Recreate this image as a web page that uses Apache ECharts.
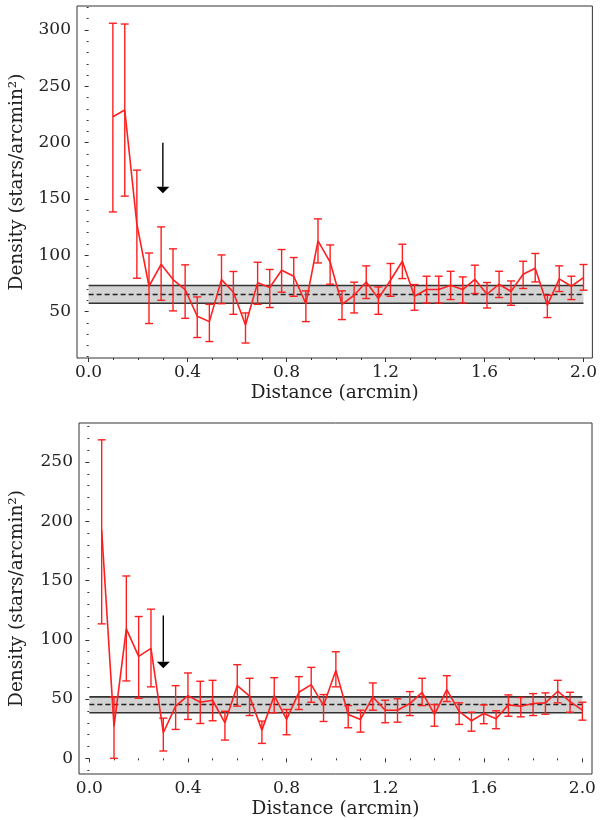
<!DOCTYPE html>
<html>
<head>
<meta charset="utf-8">
<script src="https://cdn.jsdelivr.net/npm/echarts@6/dist/echarts.min.js"></script>
<style>html,body{margin:0;padding:0;background:#fff}#c{width:600px;height:820px}</style>
</head>
<body>
<div id="c"></div>
<script>
// ---- Top panel data ----
var topX = [0.098,0.146,0.195,0.244,0.293,0.341,0.390,0.439,0.488,0.537,0.585,0.634,0.683,0.732,0.780,0.829,0.878,0.927,0.976,1.024,1.073,1.122,1.171,1.220,1.268,1.317,1.366,1.415,1.463,1.512,1.561,1.610,1.659,1.707,1.756,1.805,1.854,1.902,1.951,2.000];
var topY = [223,229,127.6,72.5,92,78.4,69.6,45.9,41.1,78.4,67.2,38.1,75.5,71.4,86.7,81.4,57.1,112.8,94,56.5,64.5,76.3,61.6,77.8,94.7,63.6,69.6,69.6,73.4,69.6,78.7,65.4,74.3,67.8,83.2,88.5,55.6,79,72.5,80.2];
var topLo = [138.5,152.5,79.6,39.4,60,50.6,44,27,23.4,57,47.6,22.1,56.5,53.6,67.2,63.6,41.1,93.2,74.3,42.9,48.8,61.6,47.6,63.6,79.3,51.2,57.7,57.7,60.7,57.7,66,53.2,62.5,55.6,70.5,76.3,44.7,67.8,60.7,69];
var topHi = [306,305.3,175.6,102,125.2,105.7,91.5,63,56.5,100.3,85.6,48.8,93.8,87.4,105.1,98,68.4,132.3,109.2,68.4,76.1,90.6,71.9,92.7,109.8,74,81.4,81.4,85.8,80.8,91.2,75.8,85.8,77.2,94.7,101.6,64.5,90.6,81.4,91.8];
var topBand = [57.4, 65.1, 73.1];   // lower, mean, upper
var topArrow = [0.3, 200, 155];     // x, start, tip
var topYTicks = [50,100,150,200,250,300];
var topYMinor = [10,20,30,40,60,70,80,90,110,120,130,140,160,170,180,190,210,220,230,240,260,270,280,290,310,320];

// ---- Bottom panel data ----
var botX = [0.05,0.10,0.15,0.20,0.25,0.30,0.35,0.40,0.45,0.50,0.55,0.60,0.65,0.70,0.75,0.80,0.85,0.90,0.95,1.00,1.05,1.10,1.15,1.20,1.25,1.30,1.35,1.40,1.45,1.50,1.55,1.60,1.65,1.70,1.75,1.80,1.85,1.90,1.95,2.00];
var botY = [192.4,27,109.2,86,92.7,21.6,44,52.9,47.3,49,30,61.3,52.4,23.8,52.9,32.8,55.7,62.2,44.5,74.2,37,32.8,51.8,40.6,40.6,46.2,55.7,37,58,39.7,31.7,37.8,33.4,45.1,44,46.2,46.8,56.6,47.9,40.6];
var botLo = [113.4,0,65.3,50.7,60.3,6.2,24.4,32.8,29.4,31.7,15.4,44,36.1,12.6,38.4,19.9,41.2,47.3,31.1,60.3,25.8,22.1,40.6,30,30.5,36.1,44.5,27.1,47.9,28.6,22.9,29.2,25,35.5,35,36.1,37.2,46.8,38.9,32.2];
var botHi = [268.6,51.8,153.8,119.6,125.8,33.9,61.3,72,65,65.8,39.7,79,67.5,31.4,68,41.2,68.9,76.7,53.8,89.9,44.5,40.6,63.6,49,50.2,56.3,67.5,45.4,69.7,46.8,38.9,45.1,40.1,53.5,51.3,54.6,55.2,65.8,55.7,47.3];
var botBand = [38.4, 45.4, 51.8];
var botArrow = [0.3, 120.5, 76];
var botYTicks = [0,50,100,150,200,250];
var botYMinor = [-10,10,20,30,40,60,70,80,90,110,120,130,140,160,170,180,190,210,220,230,240,260,270,280];

var xTicks = [0,0.4,0.8,1.2,1.6,2.0];
var xMinor = [0.1,0.2,0.3,0.5,0.6,0.7,0.9,1.0,1.1,1.3,1.4,1.5,1.7,1.8,1.9];
var bandX = [0, 2.0];

var FONT = 'DejaVu Serif';
var TXT = '#222';
var RED = '#ff1f1f';
var FRAME = '#333';

function zip2(a,b){ return a.map(function(v,i){ return [v,b[i]]; }); }
function zip3(a,b,c){ return a.map(function(v,i){ return [v,b[i],c[i]]; }); }

function errRender(params, api){
  var x = api.value(0), lo = api.value(1), hi = api.value(2);
  var p1 = api.coord([x, lo]), p2 = api.coord([x, hi]);
  var w = 4, st = {stroke: RED, lineWidth: 1.4};
  return {type:'group', children:[
    {type:'line', shape:{x1:p1[0],y1:p1[1],x2:p2[0],y2:p2[1]}, style:st},
    {type:'line', shape:{x1:p1[0]-w,y1:p1[1],x2:p1[0]+w,y2:p1[1]}, style:st},
    {type:'line', shape:{x1:p2[0]-w,y1:p2[1],x2:p2[0]+w,y2:p2[1]}, style:st}
  ]};
}
function bandRender(params, api){
  var x0 = api.value(0), x1 = api.value(1), lo = api.value(2), mid = api.value(3), hi = api.value(4);
  var a = api.coord([x0, hi]), b = api.coord([x1, lo]);
  var m0 = api.coord([x0, mid]), m1 = api.coord([x1, mid]);
  return {type:'group', children:[
    {type:'rect', shape:{x:a[0], y:a[1], width:b[0]-a[0], height:b[1]-a[1]}, style:{fill:'#d3d3d3'}},
    {type:'line', shape:{x1:a[0],y1:a[1],x2:b[0],y2:a[1]}, style:{stroke:'#333', lineWidth:1.6}},
    {type:'line', shape:{x1:a[0],y1:b[1],x2:b[0],y2:b[1]}, style:{stroke:'#333', lineWidth:1.6}},
    {type:'line', shape:{x1:m0[0],y1:m0[1],x2:m1[0],y2:m1[1]}, style:{stroke:'#222', lineWidth:1.5, lineDash:[5,3]}}
  ]};
}
function arrowRender(params, api){
  var x = api.value(0), y0 = api.value(1), y1 = api.value(2);
  var s = api.coord([x, y0]), t = api.coord([x, y1]);
  var hl = 6.5, hw = 6.5;
  return {type:'group', children:[
    {type:'line', shape:{x1:s[0],y1:s[1],x2:t[0],y2:t[1]-hl}, style:{stroke:'#000', lineWidth:1.4}},
    {type:'polygon', shape:{points:[[t[0],t[1]],[t[0]-hw,t[1]-hl],[t[0]+hw,t[1]-hl]]}, style:{fill:'#000'}}
  ]};
}

function xAxes(gi, min, max){
  return [
    {type:'value', gridIndex:gi, min:min, max:max, position:'bottom',
     name:'Distance (arcmin)', nameLocation:'middle', nameGap:26,
     nameTextStyle:{fontFamily:FONT, fontSize:18.5, color:TXT},
     axisLine:{show:false}, splitLine:{show:false},
     axisTick:{show:true, customValues:xTicks, length:4, lineStyle:{color:FRAME, width:1}},
     axisLabel:{customValues:xTicks, margin:6, fontFamily:FONT, fontSize:17, color:TXT,
       formatter:function(v){ return v.toFixed(1); }}},
    {type:'value', gridIndex:gi, min:min, max:max, position:'bottom',
     axisLine:{show:false}, splitLine:{show:false},
     axisTick:{show:true, customValues:xMinor, length:2, lineStyle:{color:FRAME, width:1}},
     axisLabel:{show:false, customValues:xMinor}}
  ];
}
function yAxes(gi, min, max, ticks, minor, gap){
  return [
    {type:'value', gridIndex:gi, min:min, max:max, position:'left',
     name:'Density (stars/arcmin\u00b2)', nameLocation:'middle', nameGap:gap, nameRotate:90,
     nameTextStyle:{fontFamily:FONT, fontSize:18.5, color:TXT},
     axisLine:{show:false}, splitLine:{show:false},
     axisTick:{show:true, customValues:ticks, length:4, lineStyle:{color:FRAME, width:1}},
     axisLabel:{customValues:ticks, margin:6, fontFamily:FONT, fontSize:17, color:TXT}},
    {type:'value', gridIndex:gi, min:min, max:max, position:'left',
     axisLine:{show:false}, splitLine:{show:false},
     axisTick:{show:true, customValues:minor, length:2, lineStyle:{color:FRAME, width:1}},
     axisLabel:{show:false, customValues:minor}}
  ];
}

var xa = xAxes(0, -0.047, 2.036).concat(xAxes(1, -0.042, 2.039));
var ya = yAxes(0, 8.8, 321.3, topYTicks, topYMinor, 50).concat(yAxes(1, -13.2, 282.8, botYTicks, botYMinor, 52));

function panelSeries(gi, X, Y, Lo, Hi, band, arrow){
  var xi = gi*2, yi = gi*2;
  return [
    {type:'custom', xAxisIndex:xi, yAxisIndex:yi, renderItem:bandRender, silent:true, z:1,
     data:[[bandX[0], bandX[1], band[0], band[1], band[2]]]},
    {type:'line', xAxisIndex:xi, yAxisIndex:yi, data:zip2(X,Y), symbol:'none', silent:true, z:3,
     lineStyle:{color:RED, width:1.6}},
    {type:'custom', xAxisIndex:xi, yAxisIndex:yi, renderItem:errRender, silent:true, z:4,
     data:zip3(X,Lo,Hi)},
    {type:'custom', xAxisIndex:xi, yAxisIndex:yi, renderItem:arrowRender, silent:true, z:5,
     data:[arrow]}
  ];
}

var chart = echarts.init(document.getElementById('c'), null, {renderer:'canvas'});
chart.setOption({
  animation:false,
  backgroundColor:'#fff',
  grid:[
    {left:77, top:6, width:518, height:352, show:true, borderColor:FRAME, borderWidth:1, backgroundColor:'transparent'},
    {left:74, top:423, width:518, height:352, show:true, borderColor:FRAME, borderWidth:1, backgroundColor:'transparent'}
  ],
  xAxis: xa,
  yAxis: ya,
  series: panelSeries(0, topX, topY, topLo, topHi, topBand, topArrow)
          .concat(panelSeries(1, botX, botY, botLo, botHi, botBand, botArrow))
});
</script>
</body>
</html>
